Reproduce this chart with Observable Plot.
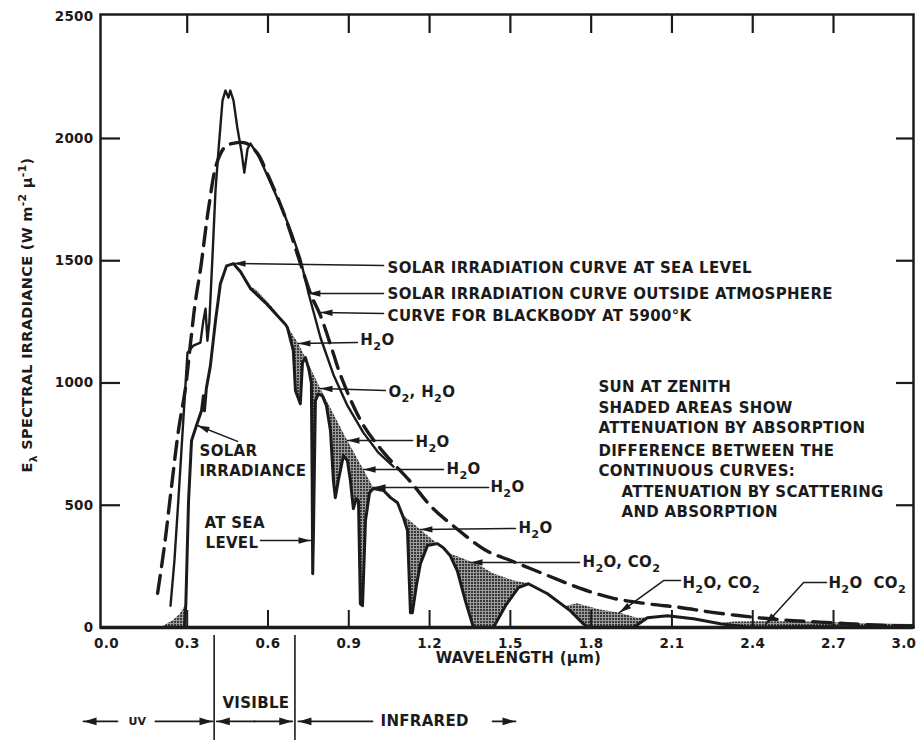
<!DOCTYPE html>
<html><head><meta charset="utf-8">
<script src="https://cdn.jsdelivr.net/npm/d3@7"></script>
<script src="https://cdn.jsdelivr.net/npm/@observablehq/plot@0.6"></script>
<style>
body{margin:0;background:#fff}
#chart svg{display:block}
#chart svg text{letter-spacing:0.3px}
</style>
</head><body><div id="chart"></div>
<script>
// ---------------- DATA (wavelength µm, spectral irradiance W m-2 µ-1) ----------------
const blackbody5900 = [[0.19,140],[0.215,330],[0.24,560],[0.268,810],[0.293,975],[0.313,1170],[0.33,1330],[0.35,1470],[0.38,1720],[0.41,1900],[0.44,1965],[0.47,1980],[0.52,1980],[0.56,1940],[0.60,1850],[0.66,1690],[0.72,1490],[0.76,1360],[0.795,1275],[0.84,1130],[0.87,1030],[0.95,835],[1.03,715],[1.13,595],[1.21,490],[1.30,405],[1.41,315],[1.51,270],[1.64,212],[1.76,160],[1.88,120],[2.01,97],[2.13,82],[2.25,62],[2.42,40],[2.55,28],[2.70,19],[2.85,10],[2.997,6]];

const outsideAtmosphere = [[0.238,89],[0.2525,273],[0.267,519],[0.2785,723],[0.29,928],[0.301,1124],[0.323,1153],[0.349,1165],[0.360,1255],[0.368,1304],[0.375,1173],[0.382,1247],[0.394,1521],[0.405,1787],[0.416,1950],[0.431,2155],[0.442,2196],[0.453,2167],[0.460,2196],[0.472,2155],[0.486,2045],[0.501,1950],[0.512,1860],[0.524,1958],[0.535,1979],[0.564,1930],[0.598,1848],[0.657,1700],[0.691,1603],[0.720,1508],[0.750,1369],[0.795,1185],[0.843,1034],[0.895,907],[0.954,797],[1.01,715],[1.066,658]];

const seaLevel = [[0.29,0],[0.295,100],[0.305,519],[0.316,764],[0.334,825],[0.353,886],[0.360,948],[0.364,886],[0.371,977],[0.386,1070],[0.405,1254],[0.423,1405],[0.446,1479],[0.472,1488],[0.498,1455],[0.535,1386],[0.590,1329],[0.665,1239],[0.672,1227],[0.694,1132],[0.702,968],[0.720,915],[0.728,1083],[0.739,1104],[0.750,1063],[0.754,1042],[0.761,1000],[0.764,600],[0.766,220],[0.769,400],[0.776,928],[0.787,955],[0.802,947],[0.817,907],[0.832,805],[0.843,600],[0.850,531],[0.861,600],[0.880,703],[0.895,682],[0.906,600],[0.917,486],[0.928,527],[0.936,518],[0.943,97],[0.951,89],[0.962,437],[0.977,551],[0.991,568],[1.029,560],[1.055,531],[1.081,510],[1.103,449],[1.118,396],[1.129,60],[1.136,60],[1.151,171],[1.166,261],[1.192,335],[1.229,343],[1.251,326],[1.277,293],[1.303,232],[1.333,109],[1.363,0],[1.437,0],[1.482,89],[1.53,163],[1.567,179],[1.638,138],[1.723,68],[1.771,15],[1.79,0],[1.957,0],[2.009,40],[2.083,48],[2.180,36],[2.280,15],[2.391,0],[2.6,3],[2.997,2]];

// upper edges of the shaded absorption areas
const absorptionEdges = [
  [[0.205,0],[0.25,30],[0.275,55],[0.293,88]],
  [[0.53,1398],[0.56,1377],[0.59,1341],[0.62,1306],[0.665,1239]],
  [[0.665,1239],[0.672,1232],[0.713,1161],[0.739,1105],[0.795,977],[0.895,765],[0.955,646],[0.991,573]],
  [[1.081,510],[1.103,458],[1.229,343]],
  [[1.277,300],[1.315,285],[1.389,252],[1.437,220],[1.511,191],[1.567,179]],
  [[1.70,85],[1.749,97],[1.834,72],[1.909,58],[1.972,38],[2.009,40]],
  [[2.28,15],[2.33,22],[2.45,24],[2.6,22],[2.8,16],[2.997,12]]
];

// ticks
const xTickValues = [0,0.3,0.6,0.9,1.2,1.5,1.8,2.1,2.4,2.7,3.0];
const xTickLabels = ["0.0","0.3","0.6","0.9","1.2","1.5","1.8","2.1","2.4","2.7","3.0"];
const yTickValues = [0,500,1000,1500,2000,2500];
const yTickLabels = ["0","500","1000","1500","2000","2500"];
const innerXTicks = [0.3,0.6,0.9,1.2,1.5,1.8,2.1,2.4,2.7];
const innerYTicks = [500,1000,1500,2000];

// callouts: label text, label anchor, arrow path (last point = arrow tip)
const calloutLabels = ["SOLAR IRRADIATION CURVE AT SEA LEVEL","SOLAR IRRADIATION CURVE OUTSIDE ATMOSPHERE","CURVE FOR BLACKBODY AT 5900°K","H_{2}O","O_{2}, H_{2}O","H_{2}O","H_{2}O","H_{2}O","H_{2}O","H_{2}O, CO_{2}","H_{2}O, CO_{2}","H_{2}O\u00a0\u00a0CO_{2}"];
const calloutAt = [[1.044,1468],[1.044,1362],[1.044,1272],[0.943,1174],[1.047,961],[1.148,757],[1.263,646],[1.426,573],[1.530,405],[1.768,266],[2.139,180],[2.681,180]];
const calloutPaths = [
  [[1.029,1480],[0.472,1489]],
  [[1.029,1366],[0.750,1366]],
  [[1.029,1284],[0.795,1288]],
  [[0.932,1166],[0.713,1161]],
  [[1.036,969],[0.795,977]],
  [[1.137,765],[0.895,765]],
  [[1.252,646],[0.955,646]],
  [[1.419,573],[0.992,573]],
  [[1.519,405],[1.166,401]],
  [[1.757,266],[1.352,266]],
  [[2.132,192],[2.069,192],[1.905,61]],
  [[2.674,184],[2.589,184],[2.447,12]]
];
const leftLabels = ["SOLAR","IRRADIANCE","AT SEA","LEVEL"];
const leftLabelAt = [[0.346,720],[0.346,638],[0.364,425],[0.368,344]];
const leftPaths = [ [[0.487,761],[0.338,826]], [[0.572,356],[0.758,356]] ];

const noteLines = ["SUN AT ZENITH","SHADED AREAS SHOW","ATTENUATION BY ABSORPTION","DIFFERENCE BETWEEN THE","CONTINUOUS CURVES:","ATTENUATION BY SCATTERING","AND ABSORPTION"];
const noteAt = [[1.827,981],[1.827,896],[1.827,814],[1.827,720],[1.827,638],[1.913,552],[1.913,470]];

// spectral regions below the axis
const regionBounds = [0.4, 0.7];
const visibleLabel = "VISIBLE", uvLabel = "UV", infraredLabel = "INFRARED";
const visibleAt = [0.555,-311], uvAt = [0.115,-384], infraredAt = [1.018,-384];
const regionArrows = [ [[0.041,-384],[-0.085,-384]], [[0.182,-384],[0.394,-384]], [[0.55,-384],[0.41,-384]], [[0.55,-384],[0.69,-384]], [[0.988,-384],[0.713,-384]], [[1.434,-384],[1.519,-384]] ];

// ---------------- LAYOUT ----------------
const W=919, H=740, ML=100, MR=6, MT=14, MB=113;
const xDomain=[-0.022,2.997], yDomain=[0,2507];
const kx=(W-ML-MR)/(xDomain[1]-xDomain[0]);
const ky=(H-MT-MB)/(yDomain[1]-yDomain[0]);
const INK="#1b1b1b";
const FONT="'DejaVu Sans', sans-serif";

function headSymbol(ux,uy,L,w){
  return {draw(ctx){
    const bx=-L*ux, by=-L*uy;
    ctx.moveTo(0,0);
    ctx.lineTo(bx - w*uy, by + w*ux);
    ctx.lineTo(bx + w*uy, by - w*ux);
    ctx.closePath();
  }};
}
function arrow(path, L=12, w=3.2, sw=1.5){
  const a=path[path.length-2], b=path[path.length-1];
  const dx=(b[0]-a[0])*kx, dy=-(b[1]-a[1])*ky, len=Math.hypot(dx,dy);
  return [
    Plot.line(path,{x:d=>d[0],y:d=>d[1],stroke:INK,strokeWidth:sw,strokeLinejoin:"miter"}),
    Plot.dot([b],{x:d=>d[0],y:d=>d[1],r:2,symbol:headSymbol(dx/len,dy/len,L,w),fill:INK,stroke:"none"})
  ];
}
const X=d=>d[0], Y=d=>d[1];
const txt={fontFamily:FONT,fontWeight:"bold",fill:INK};

const marks=[];
absorptionEdges.forEach(seg=>marks.push(Plot.areaY(seg,{x:X,y:Y,fill:"url(#stipple)"})));
marks.push(Plot.areaY(seaLevel,{x:X,y:Y,fill:"white"}));
marks.push(Plot.ruleY(innerYTicks,{x1:xDomain[0],x2:xDomain[0]+20/kx,stroke:INK,strokeWidth:2.2}));
marks.push(Plot.ruleY(innerYTicks,{x1:xDomain[1],x2:xDomain[1]-17/kx,stroke:INK,strokeWidth:2.2}));
marks.push(Plot.ruleX(innerXTicks,{y1:yDomain[1],y2:yDomain[1]-19/ky,stroke:INK,strokeWidth:2.2}));
marks.push(Plot.ruleX(innerXTicks,{y1:0,y2:17/ky,stroke:INK,strokeWidth:2}));
marks.push(Plot.line(blackbody5900,{x:X,y:Y,stroke:INK,strokeWidth:3.4,strokeDasharray:"18,9",curve:"catmull-rom"}));
marks.push(Plot.line(outsideAtmosphere,{x:X,y:Y,stroke:INK,strokeWidth:2.4,strokeLinejoin:"round"}));
marks.push(Plot.line(seaLevel,{x:X,y:Y,stroke:INK,strokeWidth:3,strokeLinejoin:"round"}));
marks.push(Plot.frame({stroke:INK,strokeWidth:2.5}));
marks.push(Plot.ruleY([0],{stroke:INK,strokeWidth:3.5}));
marks.push(Plot.text(xTickLabels.slice(0,-1),{x:(d,i)=>xTickValues[i],y:0,dy:16,text:d=>d,fontSize:13.5,...txt}));
marks.push(Plot.text(xTickLabels.slice(-1),{x:xTickValues[xTickValues.length-1],y:0,dy:16,dx:2,textAnchor:"end",text:d=>d,fontSize:13.5,...txt}));
marks.push(Plot.text(yTickLabels,{x:xDomain[0],y:(d,i)=>yTickValues[i],dx:-7,textAnchor:"end",text:d=>d,fontSize:13.5,...txt}));
marks.push(Plot.text(["E_{λ} SPECTRAL IRRADIANCE (W m^{-2} µ^{-1})"],{x:-0.293,y:1278,rotate:-90,text:d=>d,fontSize:14.5,...txt}));
marks.push(Plot.text(["WAVELENGTH (µm)"],{x:1.530,y:-127,text:d=>d,fontSize:15,...txt}));
marks.push(Plot.text(calloutLabels,{x:(d,i)=>calloutAt[i][0],y:(d,i)=>calloutAt[i][1],text:d=>d,textAnchor:"start",fontSize:15,...txt}));
calloutPaths.forEach(p=>marks.push(...arrow(p)));
marks.push(Plot.text(leftLabels,{x:(d,i)=>leftLabelAt[i][0],y:(d,i)=>leftLabelAt[i][1],text:d=>d,textAnchor:"start",fontSize:15,...txt}));
leftPaths.forEach(p=>marks.push(...arrow(p)));
marks.push(Plot.text(noteLines,{x:(d,i)=>noteAt[i][0],y:(d,i)=>noteAt[i][1],text:d=>d,textAnchor:"start",fontSize:15,...txt}));
marks.push(Plot.ruleX(regionBounds,{y1:-33,y2:-470,stroke:INK,strokeWidth:1.6}));
marks.push(Plot.text([visibleLabel],{x:visibleAt[0],y:visibleAt[1],text:d=>d,fontSize:15,...txt}));
marks.push(Plot.text([uvLabel],{x:uvAt[0],y:uvAt[1],text:d=>d,fontSize:11,...txt}));
marks.push(Plot.text([infraredLabel],{x:infraredAt[0],y:infraredAt[1],text:d=>d,textAnchor:"start",fontSize:15,...txt}));
regionArrows.forEach(p=>marks.push(...arrow(p,13,3.8,1.8)));

const chart = Plot.plot({
  width:W, height:H, marginLeft:ML, marginRight:MR, marginTop:MT, marginBottom:MB,
  x:{domain:xDomain, axis:null}, y:{domain:yDomain, axis:null},
  style:{background:"white", fontFamily:FONT, color:INK},
  marks
});
document.getElementById("chart").appendChild(chart);

const defs=d3.select(chart).insert("defs",":first-child");
const pat=defs.append("pattern").attr("id","stipple").attr("patternUnits","userSpaceOnUse").attr("width",3).attr("height",3);
pat.append("rect").attr("width",3).attr("height",3).attr("fill","#9c9c9c");
pat.append("rect").attr("width",2).attr("height",2).attr("fill","#383838");

chart.querySelectorAll("text").forEach(t=>{
  const s=t.textContent;
  if(!/[_^]\{/.test(s)) return;
  const F=parseFloat(getComputedStyle(t).fontSize)||15;
  while(t.firstChild) t.removeChild(t.firstChild);
  const NS="http://www.w3.org/2000/svg";
  let cur=0;
  const add=(str,shift,small)=>{
    const sp=document.createElementNS(NS,"tspan");
    sp.textContent=str;
    const dy=shift-cur; if(dy) sp.setAttribute("dy",dy.toFixed(2));
    if(small) sp.setAttribute("font-size",(F*0.75).toFixed(1));
    cur=shift; t.appendChild(sp);
  };
  const re=/([_^])\{([^}]*)\}/g; let last=0,m;
  while((m=re.exec(s))){
    if(m.index>last) add(s.slice(last,m.index),0,false);
    add(m[2], m[1]==="_"?F*0.32:-F*0.42, true);
    last=re.lastIndex;
  }
  if(last<s.length) add(s.slice(last),0,false);
});
</script>
</body></html>
